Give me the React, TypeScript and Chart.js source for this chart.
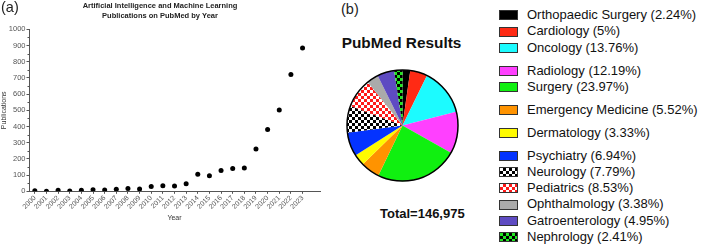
import React, { useEffect, useRef } from 'react';
import { Chart, registerables } from 'chart.js';

Chart.register(...registerables);

// ---------- Data ----------
const years = [2000, 2001, 2002, 2003, 2004, 2005, 2006, 2007, 2008, 2009, 2010, 2011, 2012, 2013, 2014, 2015, 2016, 2017, 2018, 2019, 2020, 2021, 2022, 2023];
const publications = [4, 1, 7, 2, 7, 10, 8, 12, 18, 14, 29, 35, 33, 47, 105, 96, 129, 140, 144, 261, 381, 502, 720, 885];
const yTickMax = 1000;
const yTickStep = 100;
const leftTitle = ['Artificial Intelligence and Machine Learning', 'Publications on PubMed by Year'];
const xTitle = 'Year';
const yTitle = 'Publications';

const specialties = ['Orthopaedic Surgery', 'Cardiology', 'Oncology', 'Radiology', 'Surgery', 'Emergency Medicine', 'Dermatology', 'Psychiatry', 'Neurology', 'Pediatrics', 'Ophthalmology', 'Gatroenterology', 'Nephrology'];
const shareLabels = ['2.24%', '5%', '13.76%', '12.19%', '23.97%', '5.52%', '3.33%', '6.94%', '7.79%', '8.53%', '3.38%', '4.95%', '2.41%'];
const shares = [2.24, 5, 13.76, 12.19, 23.97, 5.52, 3.33, 6.94, 7.79, 8.53, 3.38, 4.95, 2.41];
const pieTitle = 'PubMed Results';
const totalLabel = 'Total=146,975';

// ---------- Styles ----------
const FONT = "'Liberation Sans', Arial, Helvetica, sans-serif";
// colour, and optional second colour for a checkerboard fill
const sliceStyles: { c: string; c2?: string }[] = [
  { c: '#000000' },
  { c: '#FF2A14' },
  { c: '#1CFBFF' },
  { c: '#FF40FF' },
  { c: '#10F010' },
  { c: '#FF9300' },
  { c: '#FFFB00' },
  { c: '#0433FF' },
  { c: '#000000', c2: '#FFFFFF' },
  { c: '#FF1A1A', c2: '#FFFFFF' },
  { c: '#AAAAAA' },
  { c: '#5E4BC2' },
  { c: '#000000', c2: '#22E622' },
];
const legendGroupStarts = [3, 5, 6, 7];

function makeChecker(c1: string, c2: string, cell: number): CanvasPattern | string {
  const cv = document.createElement('canvas');
  cv.width = cell * 2;
  cv.height = cell * 2;
  const g = cv.getContext('2d');
  if (!g) return c1;
  g.fillStyle = c2;
  g.fillRect(0, 0, cell * 2, cell * 2);
  g.fillStyle = c1;
  g.fillRect(0, 0, cell, cell);
  g.fillRect(cell, cell, cell, cell);
  const p = g.createPattern(cv, 'repeat');
  return p || c1;
}

function LeftChart() {
  const ref = useRef<HTMLCanvasElement>(null);
  useEffect(() => {
    if (!ref.current) return;
    const minorTicks = {
      id: 'minorTicks',
      afterDraw(chart: any) {
        const ys = chart.scales.y;
        const ctx = chart.ctx;
        ctx.save();
        ctx.strokeStyle = '#555';
        ctx.lineWidth = 1;
        for (let v = yTickStep / 2; v < yTickMax; v += yTickStep) {
          const py = Math.round(ys.getPixelForValue(v)) + 0.5;
          ctx.beginPath();
          ctx.moveTo(ys.right - 1.5, py);
          ctx.lineTo(ys.right, py);
          ctx.stroke();
        }
        ctx.restore();
      },
    };
    const chart = new Chart(ref.current, {
      type: 'scatter',
      data: {
        datasets: [
          {
            data: years.map((y, i) => ({ x: y, y: publications[i] })),
            backgroundColor: '#000',
            borderColor: '#000',
            pointRadius: 2.5,
            pointBorderWidth: 0,
          },
        ],
      },
      options: {
        animation: false,
        responsive: false,
        maintainAspectRatio: false,
        layout: { padding: { left: 0, right: 10, top: 0, bottom: 0 } },
        plugins: {
          legend: { display: false },
          tooltip: { enabled: false },
          title: {
            display: true,
            text: leftTitle,
            color: '#222',
            font: { family: FONT, size: 7.5, weight: 'bold', lineHeight: 1.33 },
            padding: { top: 0.6, bottom: 8.7 },
          },
        },
        scales: {
          x: {
            type: 'linear',
            min: 1999.5,
            max: 2024.5,
            afterBuildTicks: (s: any) => {
              s.ticks = years.map((v) => ({ value: v }));
            },
            afterFit: (s: any) => {
              s.height = 56.7;
            },
            ticks: {
              autoSkip: false,
              maxRotation: 45,
              minRotation: 45,
              padding: 0,
              color: '#555',
              font: { family: FONT, size: 7 },
              callback: (v: any) => String(v),
            },
            grid: { display: true, drawOnChartArea: false, tickLength: 2.5, color: '#555' },
            border: { display: true, color: '#555', width: 1 },
            title: {
              display: true,
              text: xTitle,
              color: '#333',
              font: { family: FONT, size: 7, lineHeight: 1.2 },
              padding: { top: 0, bottom: 26.1 },
            },
          },
          y: {
            min: 0,
            max: yTickMax,
            afterFit: (s: any) => {
              s.width = 29;
            },
            ticks: {
              stepSize: yTickStep,
              padding: 1,
              color: '#555',
              font: { family: FONT, size: 7.5 },
              callback: (v: any) => String(v),
            },
            grid: { display: true, drawOnChartArea: false, tickLength: 2.5, color: '#555' },
            border: { display: true, color: '#555', width: 1 },
            title: {
              display: true,
              text: yTitle,
              color: '#333',
              font: { family: FONT, size: 7, lineHeight: 1.2 },
              padding: { top: 0, bottom: 0 },
            },
          },
        },
      } as any,
      plugins: [minorTicks],
    });
    return () => chart.destroy();
  }, []);
  return (
    <canvas
      ref={ref}
      width={330}
      height={248}
      style={{ position: 'absolute', left: 0, top: 0, width: 330, height: 248 }}
    />
  );
}

function PieChart() {
  const ref = useRef<HTMLCanvasElement>(null);
  useEffect(() => {
    if (!ref.current) return;
    const fills = sliceStyles.map((s) => (s.c2 ? makeChecker(s.c, s.c2, 3) : s.c));
    const outline = {
      id: 'outline',
      afterDatasetsDraw(chart: any) {
        const arc = chart.getDatasetMeta(0).data[0];
        if (!arc) return;
        const ctx = chart.ctx;
        ctx.save();
        ctx.beginPath();
        ctx.arc(arc.x, arc.y, arc.outerRadius, 0, Math.PI * 2);
        ctx.lineWidth = 1.5;
        ctx.strokeStyle = '#000';
        ctx.stroke();
        ctx.restore();
      },
    };
    const chart = new Chart(ref.current, {
      type: 'pie',
      data: {
        labels: specialties,
        datasets: [{ data: shares, backgroundColor: fills as any, borderWidth: 0 }],
      },
      options: {
        animation: false,
        responsive: false,
        maintainAspectRatio: false,
        layout: { padding: 4 },
        plugins: { legend: { display: false }, tooltip: { enabled: false } },
      } as any,
      plugins: [outline],
    });
    return () => chart.destroy();
  }, []);
  return (
    <canvas
      ref={ref}
      width={119}
      height={119}
      style={{ position: 'absolute', left: 342.5, top: 66, width: 119, height: 119 }}
    />
  );
}

function legendSwatch(i: number): React.CSSProperties {
  const s = sliceStyles[i];
  const base: React.CSSProperties = {
    width: 17,
    height: 8,
    border: '1.5px solid #333',
    marginRight: 9,
    flex: '0 0 auto',
  };
  if (s.c2) {
    return {
      ...base,
      backgroundColor: s.c2,
      backgroundImage: `repeating-conic-gradient(${s.c} 0 25%, ${s.c2} 0 50%)`,
      backgroundSize: '6px 6px',
    };
  }
  return { ...base, backgroundColor: s.c };
}

function Legend() {
  return (
    <div style={{ position: 'absolute', left: 499, top: 7.1, fontFamily: FONT, fontSize: 13, color: '#111' }}>
      {specialties.map((name, i) => (
        <div
          key={name}
          style={{
            display: 'flex',
            alignItems: 'center',
            height: 16.3,
            lineHeight: '16.3px',
            whiteSpace: 'nowrap',
            marginTop: legendGroupStarts.includes(i) ? 6.6 : 0,
          }}
        >
          <div style={legendSwatch(i)} />
          <span>{`${name} (${shareLabels[i]})`}</span>
        </div>
      ))}
    </div>
  );
}

export default function App() {
  const txt: React.CSSProperties = { position: 'absolute', fontFamily: FONT, whiteSpace: 'nowrap', color: '#111' };
  return (
    <div style={{ position: 'absolute', left: 0, top: 0, width: 702, height: 248, overflow: 'hidden', background: '#fff' }}>
      <LeftChart />
      <PieChart />
      <div style={{ ...txt, left: 1, top: 0, fontSize: 14.5, lineHeight: '14px', color: '#222' }}>(a)</div>
      <div style={{ ...txt, left: 341, top: 1.5, fontSize: 14.5, lineHeight: '14px', color: '#222' }}>(b)</div>
      <div style={{ ...txt, left: 341.7, top: 33.5, fontSize: 15.4, lineHeight: '18px', fontWeight: 'bold' }}>{pieTitle}</div>
      <div style={{ ...txt, left: 380, top: 206.3, fontSize: 13, lineHeight: '16px', fontWeight: 'bold' }}>{totalLabel}</div>
      <Legend />
    </div>
  );
}
